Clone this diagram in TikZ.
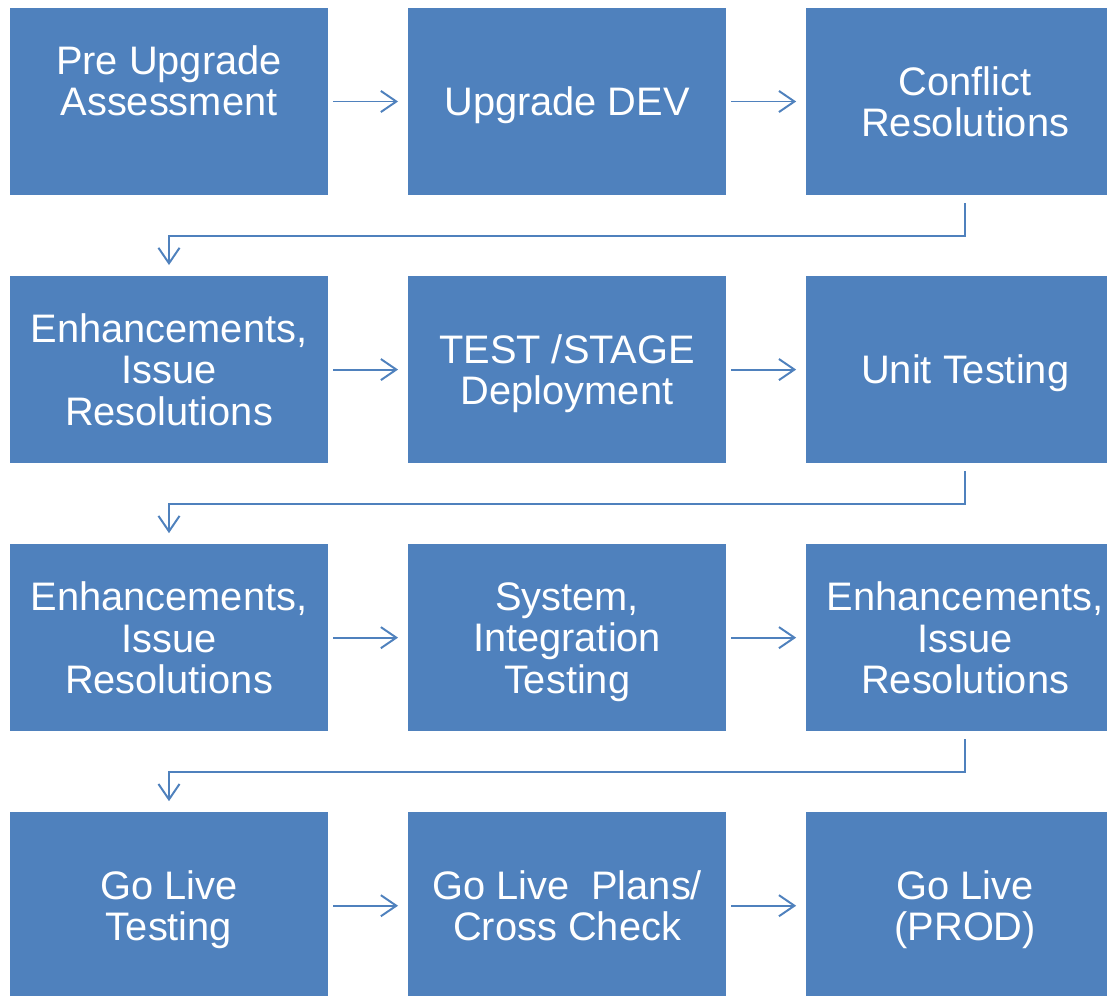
\documentclass[tikz,border=0pt]{standalone}
\usepackage{fontspec}
\setmainfont{Liberation Sans}
\usetikzlibrary{arrows.meta,positioning}

\definecolor{stageblue}{HTML}{4F81BD}

\begin{document}
\begin{tikzpicture}[x=0.025cm, y=-0.025cm,
    node distance = 2.025cm and 2cm,
    stagebox/.style = {rectangle, fill=stageblue, draw=none, outer sep=0pt,
      minimum width=7.95cm, minimum height=4.675cm, text=white, text depth=0pt,
      align=center, font=\fontsize{28.3}{29.5}\selectfont},
    flow/.style = {draw=stageblue, line width=1.4pt, -{Straight Barb[length=11pt,width=15pt]}}]
  \useasboundingbox (0,0) rectangle (1107,995);
  \clip (0,0) rectangle (1107,995);

  % row 1
  \node[stagebox] (pre) at (169,101.5) {Pre Upgrade\\Assessment\\\mbox{}};
  \node[stagebox, right=of pre] (dev) {Upgrade DEV};
  \node[stagebox, right=of dev] (conflict) {Conflict\\Resolutions};
  % row 2
  \node[stagebox, below=of pre] (enhA) {Enhancements,\\Issue\\Resolutions};
  \node[stagebox, right=of enhA] (stage) {TEST /STAGE\\Deployment};
  \node[stagebox, right=of stage] (unit) {Unit Testing};
  % row 3
  \node[stagebox, below=of enhA] (enhB) {Enhancements,\\Issue\\Resolutions};
  \node[stagebox, right=of enhB] (sit) {System,\\Integration\\Testing};
  \node[stagebox, right=of sit] (enhC) {Enhancements,\\Issue\\Resolutions};
  % row 4
  \node[stagebox, below=of enhB] (golive) {Go Live\\Testing};
  \node[stagebox, right=of golive] (plans) {Go Live~ Plans/\\Cross Check};
  \node[stagebox, right=of plans] (prod) {Go Live\\(PROD)};

  % arrows along each row
  \foreach \a/\b in {pre/dev, dev/conflict, enhA/stage, stage/unit,
                     enhB/sit, sit/enhC, golive/plans, plans/prod}
    \draw[flow] ([xshift=0.125cm]\a.east) -- ([xshift=-0.25cm]\b.west);

  % elbows back to the next row
  \foreach \a/\b in {conflict/enhA, unit/enhB, enhC/golive}
    \draw[flow] ([yshift=-0.2cm]\a.south) -- ++(0,33) -| ([yshift=0.275cm]\b.north);
\end{tikzpicture}
\end{document}
